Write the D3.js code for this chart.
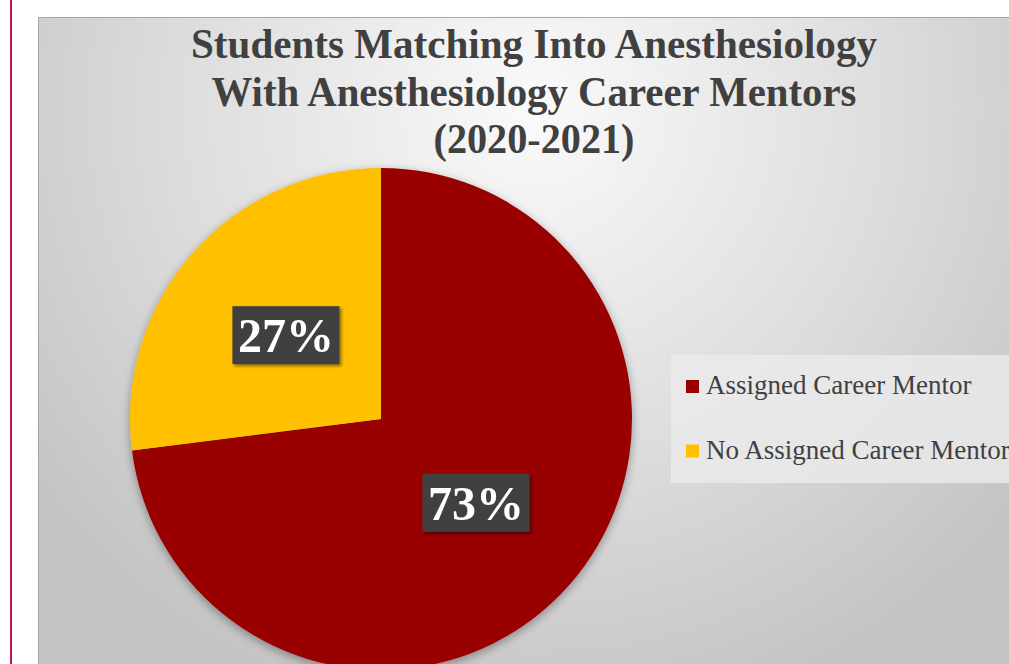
<!DOCTYPE html>
<html>
<head>
<meta charset="utf-8">
<script src="https://cdn.jsdelivr.net/npm/d3@7"></script>
<style>
  body { margin: 0; background: #fff; }
  svg { display: block; }
</style>
</head>
<body>
<svg id="chart"></svg>
<script>
// chart data
var categories = ["Assigned Career Mentor", "No Assigned Career Mentor"];
var values = [73, 27];
var labels = ["73%", "27%"];
var colors = ["#990000", "#FFC000"];
var titleLines = ["Students Matching Into Anesthesiology",
                  "With Anesthesiology Career Mentors",
                  "(2020-2021)"];
var titleWidths = [686, 645, 201]; // measured widths of the title lines

var width = 1009, height = 664;
var serif = "'Liberation Serif', 'Times New Roman', serif";
var svg = d3.select("#chart").attr("width", width).attr("height", height);

var defs = svg.append("defs");

// background gradient of the panel
var bg = defs.append("radialGradient")
    .attr("id", "bg")
    .attr("gradientUnits", "userSpaceOnUse")
    .attr("cx", 534).attr("cy", 110).attr("r", 620);
bg.append("stop").attr("offset", "0").attr("stop-color", "#fafafa");
bg.append("stop").attr("offset", "0.55").attr("stop-color", "#dedede");
bg.append("stop").attr("offset", "1").attr("stop-color", "#c4c4c4");

var pieShadow = defs.append("filter").attr("id", "pieShadow")
    .attr("x", "-20%").attr("y", "-20%").attr("width", "140%").attr("height", "140%");
pieShadow.append("feDropShadow")
    .attr("dx", 0).attr("dy", 3).attr("stdDeviation", 5)
    .attr("flood-color", "#000").attr("flood-opacity", 0.35);

var boxShadow = defs.append("filter").attr("id", "boxShadow")
    .attr("x", "-20%").attr("y", "-20%").attr("width", "140%").attr("height", "140%");
boxShadow.append("feDropShadow")
    .attr("dx", 2).attr("dy", 2).attr("stdDeviation", 1.5)
    .attr("flood-color", "#000").attr("flood-opacity", 0.45);

// red side rule
svg.append("rect")
    .attr("x", 10).attr("y", 0).attr("width", 2).attr("height", height)
    .attr("fill", "#c21546");

// panel
svg.append("rect")
    .attr("x", 38.5).attr("y", 17.5)
    .attr("width", width).attr("height", height)
    .attr("fill", "url(#bg)")
    .attr("stroke", "#a6a6a6").attr("stroke-width", 1);

// title
svg.selectAll(".title")
    .data(titleLines)
    .enter()
    .append("text")
    .attr("class", "title")
    .attr("x", 534)
    .attr("y", function(d, i) { return 58 + i * 47.5; })
    .attr("text-anchor", "middle")
    .attr("font-family", serif)
    .attr("font-weight", "bold")
    .attr("font-size", 42)
    .attr("fill", "#404040")
    .attr("textLength", function(d, i) { return titleWidths[i]; })
    .attr("lengthAdjust", "spacingAndGlyphs")
    .text(function(d) { return d; });

// pie
var cx = 381, cy = 419, radius = 251;

var pie = d3.pie().sort(null).value(function(d) { return d; });
var arcs = pie(values);

var arc = d3.arc().innerRadius(0).outerRadius(radius);
var labelArc = d3.arc().innerRadius(radius * 0.505).outerRadius(radius * 0.505);

var g = svg.append("g").attr("transform", "translate(" + cx + "," + cy + ")");

g.append("g")
    .attr("filter", "url(#pieShadow)")
    .selectAll("path")
    .data(arcs)
    .enter()
    .append("path")
    .attr("d", arc)
    .attr("fill", function(d, i) { return colors[i]; });

// data labels
var lab = g.selectAll(".lab")
    .data(arcs)
    .enter()
    .append("g")
    .attr("class", "lab")
    .attr("transform", function(d) { return "translate(" + labelArc.centroid(d) + ")"; });

lab.append("rect")
    .attr("x", -53.5).attr("y", -29)
    .attr("width", 107).attr("height", 58)
    .attr("fill", "#404040")
    .attr("filter", "url(#boxShadow)");

lab.append("text")
    .attr("text-anchor", "middle")
    .attr("y", 17)
    .attr("font-family", serif)
    .attr("font-weight", "bold")
    .attr("font-size", 49)
    .attr("fill", "#ffffff")
    .attr("textLength", 96)
    .attr("lengthAdjust", "spacingAndGlyphs")
    .text(function(d, i) { return labels[i]; });

// legend
var legend = svg.append("g");
legend.append("rect")
    .attr("x", 671).attr("y", 355)
    .attr("width", 360).attr("height", 128)
    .attr("fill", "#ebebeb").attr("fill-opacity", 0.8);

var item = legend.selectAll(".item")
    .data(categories)
    .enter()
    .append("g")
    .attr("class", "item")
    .attr("transform", function(d, i) { return "translate(686," + (394 + i * 64.5) + ")"; });

item.append("rect")
    .attr("x", 0).attr("y", -14)
    .attr("width", 13).attr("height", 13)
    .attr("fill", function(d, i) { return colors[i]; });

item.append("text")
    .attr("x", 20)
    .attr("font-family", serif)
    .attr("font-size", 27)
    .attr("fill", "#404040")
    .text(function(d) { return d; });
</script>
</body>
</html>
